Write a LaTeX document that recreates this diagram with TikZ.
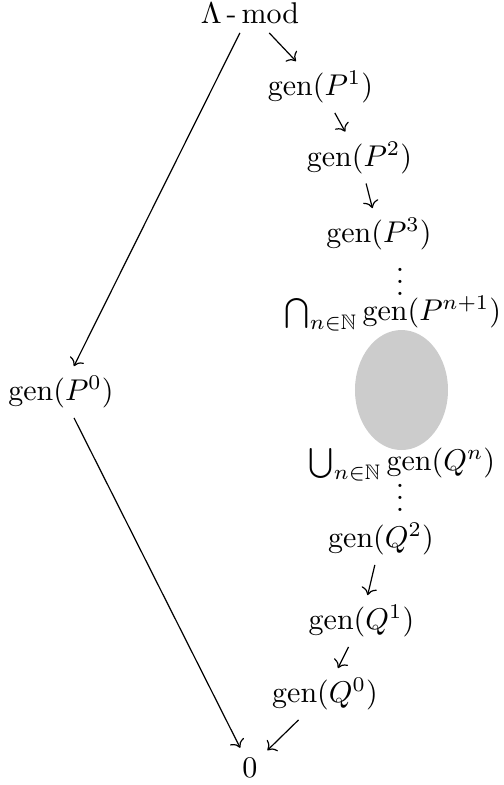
\documentclass[tikz,border=0pt]{standalone}
\usepackage{amsmath,amssymb}
\usetikzlibrary{shapes.geometric,arrows.meta}
\begin{document}
\begin{tikzpicture}[x=0.33333pt,y=-0.33333pt,
  lbl/.style={inner sep=3.3pt,outer sep=0pt,anchor=base},
  dotsnode/.style={inner sep=0pt,outer sep=0pt,anchor=base},
  arr/.style={-{Computer Modern Rightarrow},line width=0.4pt}]
\useasboundingbox (0,0) rectangle (504,785);
\node[lbl] (L) at (250,23) {$\Lambda\,\text{-}\,\mathrm{mod}$};
\node[lbl] (P1) at (320.5,95.5) {$\mathrm{gen}(P^1)$};
\node[lbl] (P2) at (359.5,166) {$\mathrm{gen}(P^2)$};
\node[lbl] (P3) at (379,242.5) {$\mathrm{gen}(P^3)$};
\node[dotsnode] (d1) at (400,295) {$\smash{\vdots}$};
\node[lbl] (Pn) at (393,320.5) {$\bigcap_{n\in\mathbb{N}}\mathrm{gen}(P^{n+1})$};
\node[ellipse,fill=black!20,draw=none,inner sep=0pt,minimum width=31pt,minimum height=40pt] (E) at (401.5,390) {};
\node[lbl] (P0) at (61,400.5) {$\mathrm{gen}(P^0)$};
\node[lbl] (Qn) at (402,470.5) {$\bigcup_{n\in\mathbb{N}}\mathrm{gen}(Q^{n})$};
\node[dotsnode] (d2) at (400,511) {$\smash{\vdots}$};
\node[lbl] (Q2) at (381,547.5) {$\mathrm{gen}(Q^2)$};
\node[lbl] (Q1) at (361.5,629.5) {$\mathrm{gen}(Q^1)$};
\node[lbl] (Q0) at (325,702.5) {$\mathrm{gen}(Q^0)$};
\node[lbl] (Z) at (250,777) {$0$};
\draw[arr] (L) -- (P1);
\draw[arr] (L) -- (P0);
\draw[arr] (P1) -- (P2);
\draw[arr] (P2) -- (P3);
\draw[arr] (P0) -- (Z);
\draw[arr] (Q2) -- (Q1);
\draw[arr] (Q1) -- (Q0);
\draw[arr] (Q0) -- (Z);
\end{tikzpicture}
\end{document}
